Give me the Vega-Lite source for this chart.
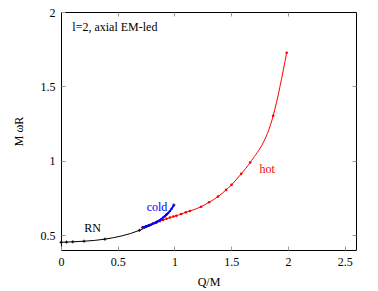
{
  "$schema": "https://vega.github.io/schema/vega-lite/v6.json",
  "autosize": {"type": "none"},
  "padding": {"left": 61, "top": 12, "right": 22, "bottom": 41},
  "width": 295,
  "height": 238,
  "config": {
    "view": {"stroke": "black", "strokeWidth": 1},
    "font": "Liberation Serif, Times New Roman, serif",
    "axis": {
      "grid": false,
      "domain": false,
      "labelFlush": false,
      "tickColor": "#999999",
      "tickSize": -4,
      "labelFont": "Liberation Serif, Times New Roman, serif",
      "labelFontSize": 12,
      "labelColor": "black",
      "titleFont": "Liberation Serif, Times New Roman, serif",
      "titleFontSize": 12,
      "titleFontWeight": "normal",
      "titleColor": "black"
    }
  },
  "datasets": {
    "curves": [
      {"series": "RN", "Q": 0.0, "w": 0.452},
      {"series": "RN", "Q": 0.048, "w": 0.453},
      {"series": "RN", "Q": 0.104, "w": 0.455},
      {"series": "RN", "Q": 0.203, "w": 0.459},
      {"series": "RN", "Q": 0.387, "w": 0.473},
      {"series": "RN", "Q": 0.69, "w": 0.532},
      {"series": "RN", "Q": 0.84, "w": 0.587},
      {"series": "RN", "Q": 0.93, "w": 0.638},
      {"series": "RN", "Q": 0.995, "w": 0.703},
      {"series": "hot", "Q": 0.72, "w": 0.552},
      {"series": "hot", "Q": 0.75, "w": 0.56},
      {"series": "hot", "Q": 0.78, "w": 0.568},
      {"series": "hot", "Q": 0.81, "w": 0.577},
      {"series": "hot", "Q": 0.84, "w": 0.585},
      {"series": "hot", "Q": 0.87, "w": 0.594},
      {"series": "hot", "Q": 0.9, "w": 0.602},
      {"series": "hot", "Q": 0.93, "w": 0.61},
      {"series": "hot", "Q": 0.96, "w": 0.618},
      {"series": "hot", "Q": 0.99, "w": 0.625},
      {"series": "hot", "Q": 1.017, "w": 0.63},
      {"series": "hot", "Q": 1.059, "w": 0.642},
      {"series": "hot", "Q": 1.1, "w": 0.653},
      {"series": "hot", "Q": 1.136, "w": 0.662},
      {"series": "hot", "Q": 1.235, "w": 0.691},
      {"series": "hot", "Q": 1.305, "w": 0.721},
      {"series": "hot", "Q": 1.384, "w": 0.759},
      {"series": "hot", "Q": 1.455, "w": 0.804},
      {"series": "hot", "Q": 1.503, "w": 0.838},
      {"series": "hot", "Q": 1.588, "w": 0.912},
      {"series": "hot", "Q": 1.667, "w": 0.988},
      {"series": "hot", "Q": 1.87, "w": 1.302},
      {"series": "hot", "Q": 1.989, "w": 1.726},
      {"series": "cold", "Q": 0.72, "w": 0.552},
      {"series": "cold", "Q": 0.735, "w": 0.555},
      {"series": "cold", "Q": 0.75, "w": 0.559},
      {"series": "cold", "Q": 0.765, "w": 0.563},
      {"series": "cold", "Q": 0.78, "w": 0.567},
      {"series": "cold", "Q": 0.795, "w": 0.571},
      {"series": "cold", "Q": 0.81, "w": 0.576},
      {"series": "cold", "Q": 0.825, "w": 0.581},
      {"series": "cold", "Q": 0.84, "w": 0.587},
      {"series": "cold", "Q": 0.855, "w": 0.594},
      {"series": "cold", "Q": 0.87, "w": 0.601},
      {"series": "cold", "Q": 0.885, "w": 0.609},
      {"series": "cold", "Q": 0.9, "w": 0.618},
      {"series": "cold", "Q": 0.915, "w": 0.627},
      {"series": "cold", "Q": 0.93, "w": 0.638},
      {"series": "cold", "Q": 0.945, "w": 0.649},
      {"series": "cold", "Q": 0.96, "w": 0.662},
      {"series": "cold", "Q": 0.975, "w": 0.677},
      {"series": "cold", "Q": 0.99, "w": 0.695}
    ],
    "labels": [
      {"label": "l=2, axial EM-led", "Q": 0.1, "w": 1.9, "kind": "note"},
      {"label": "RN", "Q": 0.205, "w": 0.545, "kind": "RN"},
      {"label": "cold", "Q": 0.755, "w": 0.689, "kind": "cold"},
      {"label": "hot", "Q": 1.75, "w": 0.944, "kind": "hot"}
    ]
  },
  "layer": [
    {
      "data": {"name": "curves"},
      "transform": [{"filter": "datum.series === 'RN'"}],
      "mark": {"type": "line", "color": "black", "strokeWidth": 1, "interpolate": "monotone",
        "point": {"shape": "M-1,0H1M0,-1V1", "filled": false, "stroke": "black", "strokeWidth": 1, "size": 9}},
      "encoding": {
        "x": {"field": "Q", "type": "quantitative", "scale": {"domain": [0, 2.5]},
          "axis": {"title": "Q/M", "values": [0, 0.5, 1, 1.5, 2, 2.5], "format": "~g", "labelPadding": 10, "titlePadding": 9}},
        "y": {"field": "w", "type": "quantitative", "scale": {"domain": [0.4, 2]},
          "axis": {"title": "M ωR", "values": [0.5, 1, 1.5, 2], "format": "~g", "labelPadding": 10, "titlePadding": 15}}
      }
    },
    {
      "data": {"name": "curves"},
      "transform": [{"filter": "datum.series === 'hot'"}],
      "mark": {"type": "line", "color": "#ff0000", "strokeWidth": 1, "interpolate": "monotone",
        "point": {"shape": "circle", "filled": true, "color": "#ff0000", "size": 7}},
      "encoding": {
        "x": {"field": "Q", "type": "quantitative", "axis": null},
        "y": {"field": "w", "type": "quantitative", "axis": null}
      }
    },
    {
      "data": {"name": "curves"},
      "transform": [{"filter": "datum.series === 'cold'"}],
      "mark": {"type": "line", "color": "#0000ff", "strokeWidth": 1.5, "interpolate": "monotone",
        "point": {"shape": "circle", "filled": true, "color": "#0000ff", "size": 6}},
      "encoding": {
        "x": {"field": "Q", "type": "quantitative", "axis": null},
        "y": {"field": "w", "type": "quantitative", "axis": null}
      }
    },
    {
      "data": {"name": "labels"},
      "mark": {"type": "text", "font": "Liberation Serif, Times New Roman, serif", "fontSize": 12, "align": "left", "baseline": "middle"},
      "encoding": {
        "x": {"field": "Q", "type": "quantitative", "axis": null},
        "y": {"field": "w", "type": "quantitative", "axis": null},
        "text": {"field": "label"},
        "color": {"field": "kind", "type": "nominal", "legend": null,
          "scale": {"domain": ["note", "RN", "cold", "hot"], "range": ["black", "black", "#0000ff", "#ff0000"]}}
      }
    },
    {
      "data": {"name": "labels"},
      "mark": {"type": "point", "opacity": 0},
      "encoding": {
        "x": {"field": "Q", "type": "quantitative",
          "axis": {"orient": "top", "labels": false, "title": null, "values": [0.5, 1, 1.5, 2]}},
        "y": {"field": "w", "type": "quantitative",
          "axis": {"orient": "right", "labels": false, "title": null, "values": [0.5, 1, 1.5]}}
      }
    }
  ],
  "resolve": {"axis": {"x": "independent", "y": "independent"}}
}
